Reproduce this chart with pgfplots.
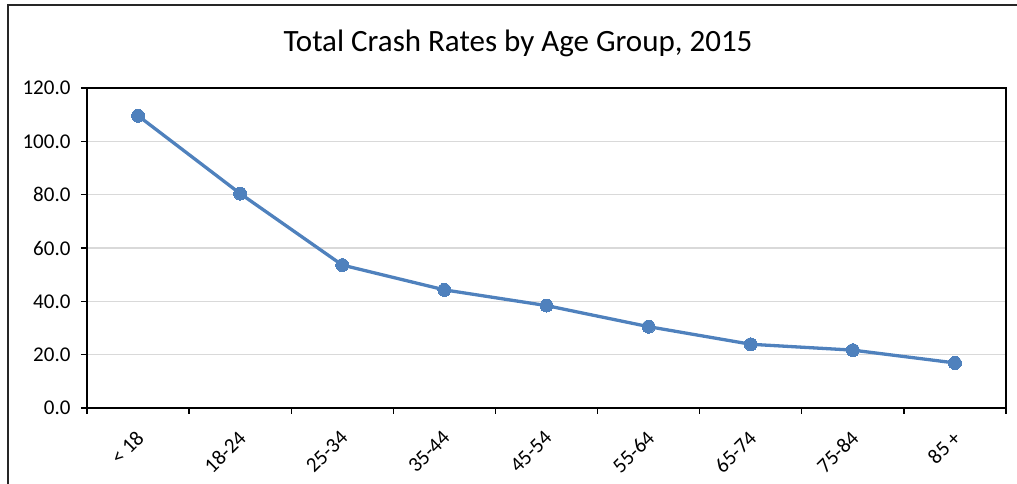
\documentclass[border=0pt]{standalone}
\usepackage{fontspec}
\setmainfont{Carlito}
\usepackage{pgfplots}
\pgfplotsset{compat=1.18}
\definecolor{serieblue}{RGB}{79,129,189}
\definecolor{gridgray}{RGB}{217,217,217}
\begin{document}
\begin{tikzpicture}[x=1pt,y=1pt]
\path[use as bounding box] (0,0) rectangle (1017,484);
\draw[line width=2pt, black!85] (8,-2) -- (8,479) -- (1019,479);
\node[anchor=base, font=\fontsize{31pt}{34pt}\selectfont] at (518,432) {Total Crash Rates by Age Group, 2015};
\begin{axis}[
  at={(87pt,76pt)}, anchor=south west,
  scale only axis, width=919pt, height=320pt,
  xmin=-0.5, xmax=8.5, ymin=0, ymax=120,
  ytick={0,20,...,120},
  yticklabel style={xshift=-7pt, /pgf/number format/.cd, fixed, fixed zerofill, precision=1, assume math mode=true},
  xtick={-0.5,0.5,...,8.5},
  xticklabels={},
  extra x ticks={0,1,2,3,4,5,6,7,8},
  extra x tick labels={< 18,18-24,25-34,35-44,45-54,55-64,65-74,75-84,85 +},
  extra x tick style={major tick length=0pt, xticklabel style={rotate=45, anchor=north east, inner sep=0pt, xshift=-17.2pt, yshift=-12.9pt}},
  xtick pos=bottom, ytick pos=left,
  tick align=outside,
  major tick length=6pt,
  tick style={black, line width=1.3pt},
  axis line style={black, line width=1.3pt},
  ymajorgrids, grid style={gridgray, line width=1.3pt},
  tick label style={font=\fontsize{21pt}{24pt}\selectfont, text=black},
]
\addplot[serieblue, line width=3.3pt, mark=*, mark size=6.5pt, mark options={fill=serieblue, draw=serieblue, line width=0pt}]
coordinates {(0,109.6) (1,80.4) (2,53.6) (3,44.3) (4,38.4) (5,30.5) (6,23.9) (7,21.7) (8,16.9)};
\end{axis}
\end{tikzpicture}
\end{document}
